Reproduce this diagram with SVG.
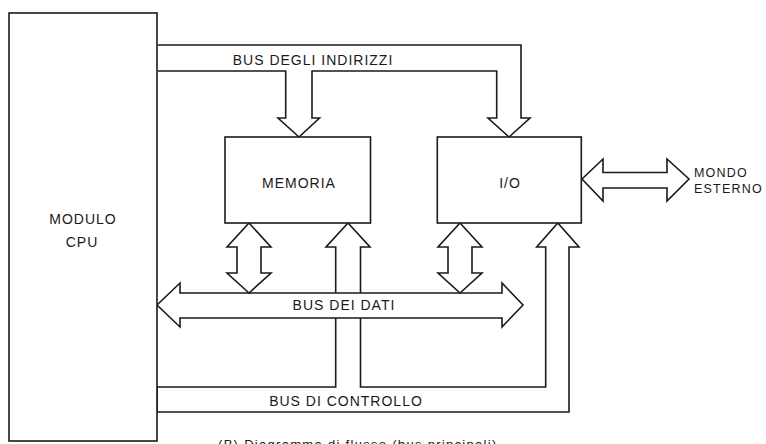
<svg xmlns="http://www.w3.org/2000/svg" width="766" height="444" viewBox="0 0 766 444">
<style>
.ln{fill:#fff;stroke:#1a1a1a;stroke-width:1.6;stroke-linejoin:miter}
.op{fill:none;stroke:#1a1a1a;stroke-width:1.6}
.t{font-family:"Liberation Sans",Arial,sans-serif;font-size:14px;letter-spacing:1px;fill:#1a1a1a}
.tm{text-anchor:middle}
.s{font-size:12.5px;letter-spacing:1.2px}
</style>
<rect width="766" height="444" fill="#fff"/>
<g id="connectors">
  <path id="control-bus" class="ln" d="M157,387 L335.7,387 L335.7,247 L326,247 L348,223 L370,247 L360.5,247 L360.5,387 L545.7,387 L545.7,247 L536.7,247 L557.8,223 L579,247 L569,247 L569,412 L157,412 Z"/>
  <path id="address-bus" class="ln" d="M158,45 L521,45 L521,118 L530,118 L509,137 L488,118 L496.7,118 L496.7,71 L312,71 L312,118 L319.5,118 L299,137 L278,118 L285.7,118 L285.7,71 L158,71"/>
  <polygon id="data-bus" class="ln" points="157,305 180,283 180,293 502,293 502,283 523,305 502,327 502,318 180,318 180,327"/>
  <polygon id="mem-data" class="ln" points="249,223 271,247 261,247 261,273 271,273 249,293 227,273 237,273 237,247 227,247"/>
  <polygon id="io-data" class="ln" points="460,223 482,247 472,247 472,273 482,273 460,293 438,273 448,273 448,247 438,247"/>
  <polygon id="io-external" class="ln" points="582,179 603,159 603,172.5 667,172.5 667,159 689,179 667,201 667,188 603,188 603,201"/>
  <text class="t tm" x="313" y="65">BUS DEGLI INDIRIZZI</text>
  <text class="t tm" x="344" y="310">BUS DEI DATI</text>
  <text class="t tm" x="346" y="406">BUS DI CONTROLLO</text>
</g>
<g id="cpu">
  <rect class="ln" x="9" y="13" width="148" height="428"/>
  <text class="t tm" x="83" y="224">MODULO</text>
  <text class="t tm" x="82" y="247">CPU</text>
</g>
<g id="memoria">
  <rect class="ln" x="225" y="137" width="145.5" height="86"/>
  <text class="t tm" x="299" y="188">MEMORIA</text>
</g>
<g id="io">
  <rect class="ln" x="437.3" y="137" width="144" height="86"/>
  <text class="t tm" x="510" y="188">I/O</text>
</g>
<g id="mondo-esterno">
  <text class="t s" x="694" y="177">MONDO</text>
  <text class="t s" x="694" y="193">ESTERNO</text>
</g>
<text class="t" style="font-size:13px;letter-spacing:1.3px" x="218" y="449">(B) Diagramma di flusso (bus principali)</text>
</svg>
